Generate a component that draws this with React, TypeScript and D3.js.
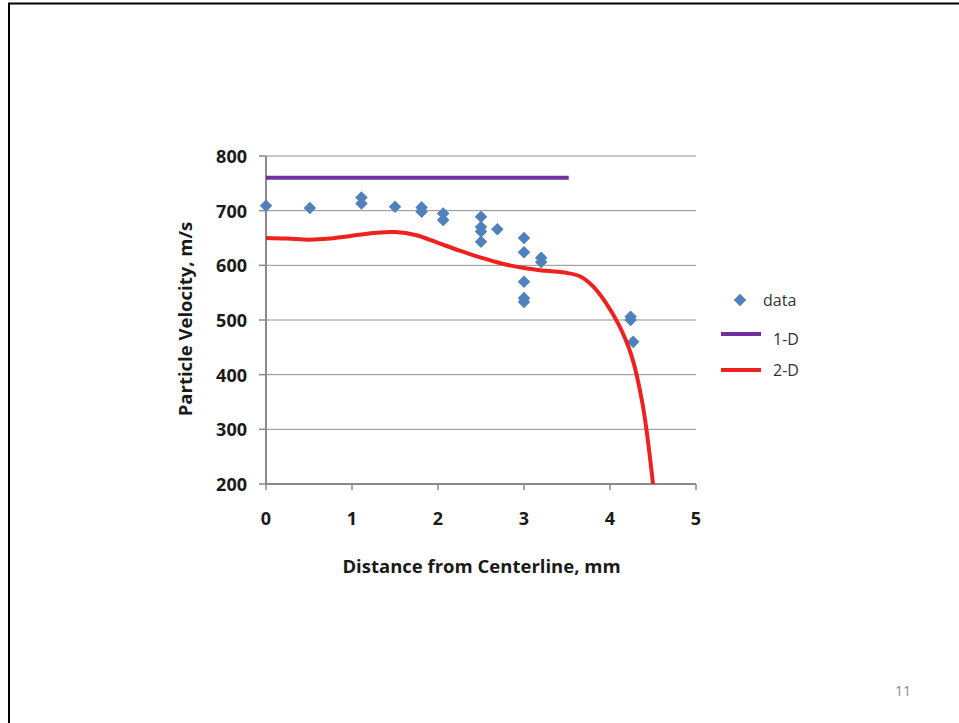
import React from "react";
import * as d3 from "d3";

const xTicks = [0, 1, 2, 3, 4, 5];
const yTicks = [200, 300, 400, 500, 600, 700, 800];

// Measured data (diamonds)
const dataX = [0, 0.51, 1.11, 1.11, 1.5, 1.81, 1.81, 2.06, 2.06, 2.5, 2.5, 2.5, 2.5, 2.69, 3.0, 3.0, 3.0, 3.0, 3.0, 3.2, 3.2, 4.24, 4.24, 4.27];
const dataY = [709, 705, 724, 713, 707, 706, 698, 695, 683, 689, 670, 662, 643, 666, 650, 624, 570, 540, 533, 614, 606, 506, 500, 460];

// 1-D model
const oneDX = [0, 3.52];
const oneDY = [760, 760];

// 2-D model
const twoDX = [0, 0.25, 0.5, 0.75, 1.0, 1.25, 1.5, 1.75, 2.0, 2.25, 2.5, 2.75, 3.0, 3.25, 3.5, 3.65, 3.8, 3.95, 4.1, 4.25, 4.38, 4.5];
const twoDY = [650, 649, 647, 649, 654, 659, 661, 655, 641, 627, 614, 603, 595, 590, 586, 580, 562, 532, 492, 435, 345, 200];

const legendLabels = ["data", "1-D", "2-D"];

const FONT = "'Open Sans', 'DejaVu Sans', sans-serif";

export default function App() {
  const W = 959;
  const H = 723;
  const x = d3.scaleLinear().domain([0, 5]).range([266, 696]);
  const y = d3.scaleLinear().domain([200, 800]).range([484, 156]);

  const lineGen = d3
    .line<[number, number]>()
    .x((d) => x(d[0]))
    .y((d) => y(d[1]))
    .curve(d3.curveCatmullRom.alpha(0.5));

  const twoDPath = lineGen(twoDX.map((v, i) => [v, twoDY[i]]) as [number, number][]) || "";
  const oneDPath =
    d3
      .line<[number, number]>()
      .x((d) => x(d[0]))
      .y((d) => y(d[1]))(oneDX.map((v, i) => [v, oneDY[i]]) as [number, number][]) || "";

  const diamond = d3.symbol().type(d3.symbolDiamond2).size(100)() || "";

  const gridColor = "#8e8e8e";
  const axisColor = "#8a8a8a";

  return (
    <div style={{ position: "absolute", left: 0, top: 0, width: W, height: H, background: "#fff" }}>
      <svg width={W} height={H} style={{ display: "block" }}>
        <rect x={0} y={0} width={W} height={H} fill="#fff" />
        {/* slide frame */}
        <rect x={9} y={3.5} width={W + 20} height={H + 20} fill="none" stroke="#000" strokeWidth={2} />

        {/* gridlines */}
        {yTicks.map((t) => (
          <line key={"g" + t} x1={x(0)} x2={x(5)} y1={y(t)} y2={y(t)} stroke={gridColor} strokeWidth={1} />
        ))}
        {/* y ticks */}
        {yTicks.map((t) => (
          <line key={"yt" + t} x1={x(0) - 7} x2={x(0)} y1={y(t)} y2={y(t)} stroke={axisColor} strokeWidth={1.5} />
        ))}
        {/* x ticks */}
        {xTicks.map((t) => (
          <line key={"xt" + t} x1={x(t)} x2={x(t)} y1={y(200)} y2={y(200) + 6} stroke={axisColor} strokeWidth={1.5} />
        ))}
        {/* axes */}
        <line x1={x(0)} x2={x(0)} y1={y(800)} y2={y(200)} stroke={axisColor} strokeWidth={2} />
        <line x1={x(0)} x2={x(5)} y1={y(200)} y2={y(200)} stroke={axisColor} strokeWidth={2} />

        {/* y tick labels */}
        {yTicks.map((t) => (
          <text
            key={"yl" + t}
            x={247}
            y={y(t) + 7}
            textAnchor="end"
            fontFamily={FONT}
            fontWeight={700}
            fontSize={18}
            fill="#1a1a1a"
          >
            {t}
          </text>
        ))}
        {/* x tick labels */}
        {xTicks.map((t) => (
          <text
            key={"xl" + t}
            x={x(t)}
            y={525}
            textAnchor="middle"
            fontFamily={FONT}
            fontWeight={700}
            fontSize={18}
            fill="#1a1a1a"
          >
            {t}
          </text>
        ))}

        {/* axis titles */}
        <text
          x={481.5}
          y={573}
          textAnchor="middle"
          fontFamily={FONT}
          fontWeight={700}
          fontSize={18.5}
          fill="#1a1a1a"
        >
          Distance from Centerline, mm
        </text>
        <text
          transform={`translate(192,319) rotate(-90)`}
          textAnchor="middle"
          fontFamily={FONT}
          fontWeight={700}
          fontSize={18.5}
          fill="#1a1a1a"
        >
          Particle Velocity, m/s
        </text>

        {/* 1-D line */}
        <path d={oneDPath} fill="none" stroke="#7030A0" strokeWidth={4} />
        {/* data diamonds */}
        {dataX.map((v, i) => (
          <path key={"d" + i} d={diamond} transform={`translate(${x(v)},${y(dataY[i])})`} fill="#4F81BD" />
        ))}
        {/* 2-D line */}
        <path d={twoDPath} fill="none" stroke="#ee2020" strokeWidth={4} strokeLinejoin="round" />

        {/* legend */}
        <path d={diamond} transform="translate(740,300)" fill="#4F81BD" />
        <text x={763} y={306} fontFamily={FONT} fontSize={16} fill="#333">
          {legendLabels[0]}
        </text>
        <line x1={721} x2={761} y1={334} y2={334} stroke="#7030A0" strokeWidth={4} />
        <text x={773} y={345} fontFamily={FONT} fontSize={16} fill="#333">
          {legendLabels[1]}
        </text>
        <line x1={721} x2={761} y1={370} y2={370} stroke="#ee2020" strokeWidth={4} />
        <text x={773} y={376} fontFamily={FONT} fontSize={16} fill="#333">
          {legendLabels[2]}
        </text>

        {/* slide number */}
        <text x={895} y={696} fontFamily={FONT} fontSize={14} fill="#8c8c8c">
          11
        </text>
      </svg>
    </div>
  );
}
